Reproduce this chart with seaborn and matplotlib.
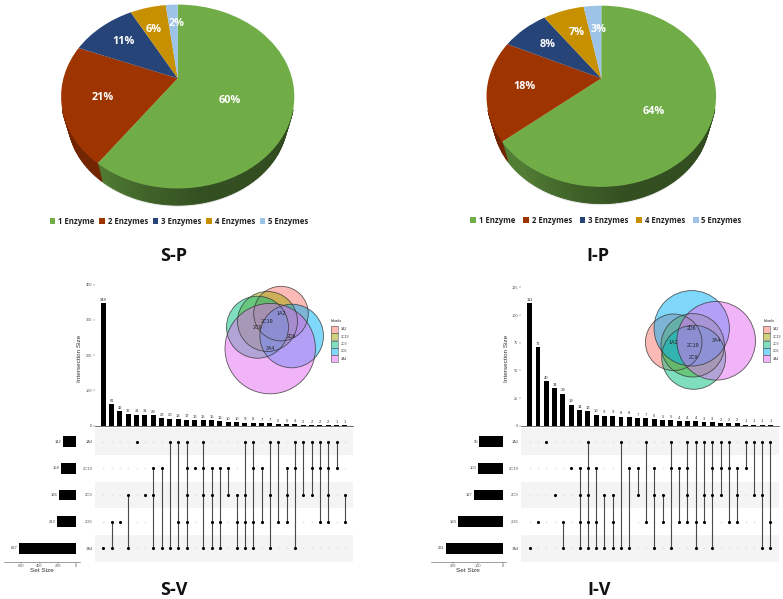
import numpy as np
import pandas as pd
import matplotlib
matplotlib.use("Agg")
import matplotlib.pyplot as plt
import matplotlib.transforms as mtransforms
from matplotlib import font_manager as fm
from matplotlib.collections import PolyCollection
from matplotlib.colors import to_rgb
from matplotlib.patches import Circle, Rectangle, Patch
import seaborn as sns

# ---------- data ----------
ENZYME_LABELS = ["1 Enzyme", "2 Enzymes", "3 Enzymes", "4 Enzymes", "5 Enzymes"]
PIE_COLORS = ["#70AD47", "#9E3400", "#264478", "#C69000", "#9DC3E6"]
SP_SHARE = [60, 21, 11, 6, 2]
IP_SHARE = [64, 18, 8, 7, 3]

SETS = ["1A2", "2C19", "2C9", "2D6", "3A4"]
SV_SET_SIZE = [142, 168, 186, 213, 627]
IV_SET_SIZE = [95, 100, 117, 183, 231]

SV_INTER = [348, 61, 42, 32, 31, 31, 29, 22, 20, 18, 17, 16, 15, 15, 13,
            10, 10, 9, 8, 7, 7, 5, 5, 4, 2, 2, 2, 2, 1, 1]
SV_COMBOS = ["3A4", "2D6 3A4", "2D6", "2C9 3A4", "1A2", "2C9",
             "2C19 2C9 3A4", "2C19 3A4", "1A2 3A4", "1A2 2D6 3A4",
             "1A2 2C19 2C9 2D6 3A4", "2C19", "1A2 2C19 2C9 3A4",
             "2C19 2C9 2D6 3A4", "2C19 2D6 3A4", "2C19 2C9", "2C9 2D6 3A4",
             "1A2 2C9 2D6 3A4", "1A2 2C19 2D6 3A4", "2C19 2D6", "1A2 2C9 3A4",
             "1A2 2D6", "2C19 2C9 2D6", "1A2 2C19 3A4", "1A2 2C9",
             "1A2 2C19 2C9", "1A2 2C19 2D6", "1A2 2C19 2C9 2D6", "1A2 2C19",
             "2C9 2D6"]

IV_INTER = [111, 71, 40, 34, 29, 19, 14, 13, 10, 9, 9, 8, 8, 7, 7,
            6, 5, 5, 4, 4, 4, 3, 3, 2, 2, 2, 1, 1, 1, 1]
IV_COMBOS = ["3A4", "2D6", "1A2", "2C9", "2D6 3A4", "2C19",
             "2C19 2C9 2D6 3A4", "1A2 2C19 2C9 2D6 3A4", "2C19 2D6 3A4",
             "2C9 3A4", "2C9 2D6 3A4", "1A2 3A4", "2C19 3A4", "2C19 2C9",
             "1A2 2D6", "2C19 2C9 3A4", "2C9 2D6", "1A2 2C19 3A4", "2C19 2D6",
             "1A2 2C19 2C9 2D6", "1A2 2D6 3A4", "1A2 2C9 2D6",
             "1A2 2C19 2C9 3A4", "1A2 2C19 2C9", "1A2 2C19 2D6",
             "2C19 2C9 2D6", "1A2 2C19", "1A2 2C9", "1A2 2C9 3A4",
             "1A2 2D6 3A4"]

VENN_COLORS = ["#F8766D", "#A3A500", "#00BF7D", "#00B0F6", "#E76BF3"]

# ---------- setup ----------
sns.set_theme(style="white")
plt.rcParams["font.family"] = ["Liberation Sans", "DejaVu Sans"]
W, H = 783, 599
fig = plt.figure(figsize=(W / 100, H / 100), dpi=100, facecolor="white")


def bold_family():
    for fam in ["Open Sans", "Noto Sans", "Lato", "Roboto", "Liberation Sans"]:
        for f in fm.fontManager.ttflist:
            if f.name == fam and f.weight in ("bold", 700, "700"):
                return fam
    return "DejaVu Sans"


BOLD = bold_family()


def px_axes(x0, y0, x1, y1):
    return fig.add_axes([x0 / W, 1 - y1 / H, (x1 - x0) / W, (y1 - y0) / H])


class Persp(mtransforms.Transform):
    """Tilted-disc projection of a unit pie, output in pixels."""
    input_dims = output_dims = 2
    is_separable = False
    has_inverse = False

    def __init__(self, cx, cy, a, b, k):
        super().__init__()
        self.p = (cx, cy, a, b, k)

    def transform_non_affine(self, xy):
        cx, cy, a, b, k = self.p
        xy = np.asarray(xy)
        d = 1 + k * xy[:, 1]
        return np.column_stack([cx + a * xy[:, 0] / d, cy - b * xy[:, 1] / d])


def pie3d(share, cx, cy, a, b, label_xy, legend_x, legend_y, col_space):
    k = 0.198
    shrink, drop, cy_e = 0.943, 22.0, cy + 18.3
    ax = px_axes(cx - 170, 0, cx + 170, 240)
    wedges, _, pct = ax.pie(share, colors=PIE_COLORS, startangle=90, counterclock=False,
                            autopct=lambda p: f"{p:.0f}%", frame=False,
                            wedgeprops={"linewidth": 0, "edgecolor": "none"})
    ax.set_aspect("auto")
    ax.set_xlim(cx - 170, cx + 170)
    ax.set_ylim(240, 0)
    proj = Persp(cx, cy, a, b, k)

    def lower(p):
        return np.column_stack([cx + shrink * (p[:, 0] - cx),
                                cy_e + drop + shrink * (p[:, 1] - cy_e)])

    for w in wedges:
        w.set_transform(proj + ax.transData)
        w.set_zorder(3)
    # side wall (only the near half of the rim can be seen)
    edges = np.concatenate([[0], np.cumsum(share)]) / np.sum(share) * 360
    polys, cols = [], []
    for i, col in enumerate(PIE_COLORS):
        th = np.radians(np.arange(edges[i], edges[i + 1] + 1.5, 1.5))
        rim = proj.transform_non_affine(np.column_stack([np.sin(th), np.cos(th)]))
        low = lower(rim)
        deg = np.degrees(th)
        for j in range(len(th) - 1):
            if rim[j, 1] < cy_e + 15 and rim[j + 1, 1] < cy_e + 15:
                continue
            polys.append([rim[j], rim[j + 1], low[j + 1], low[j]])
            f = np.interp(deg[j], [90, 170, 190, 216], [0.42, 0.46, 0.56, 0.72])
            cols.append(tuple(np.array(to_rgb(col)) * f))
    ax.add_collection(PolyCollection(polys, facecolors=cols, edgecolors=cols,
                                     linewidths=0.6, zorder=2))
    # soft shadow under the wall
    th = np.radians(np.arange(0, 361, 3))
    rim = lower(proj.transform_non_affine(np.column_stack([np.sin(th), np.cos(th)])))
    ax.fill(rim[:, 0], rim[:, 1] + 1.5, color="#999999", alpha=0.25, lw=0, zorder=1)
    for t, (x, y) in zip(pct, label_xy):
        t.set_position((x, y))
        t.set(color="white", fontsize=7.8, fontweight="bold", family=BOLD,
              ha="center", va="center", zorder=5)
    ax.legend(handles=[Patch(color=c, lw=0) for c in PIE_COLORS], labels=ENZYME_LABELS,
              ncol=5, loc="center", bbox_to_anchor=(legend_x, legend_y),
              bbox_transform=ax.transData, frameon=False, handlelength=0.75,
              handleheight=0.75, handletextpad=0.35, columnspacing=col_space,
              prop={"family": BOLD, "weight": "bold", "size": 5.6},
              labelcolor="#222222", borderpad=0, borderaxespad=0)
    ax.axis("off")


pie3d(SP_SHARE, 177.7, 78.3, 114.3, 88.3,
      [(230, 100.7), (102.3, 97), (123.3, 42), (153.3, 30), (177, 24)], 179, 221, 0.6)
pie3d(IP_SHARE, 601.3, 78.3, 112.5, 87,
      [(654, 111.7), (524, 86.7), (547.3, 44.3), (577.3, 32.7), (599, 29.3)], 606, 220.5, 1.0)

SMALL = "#555555"


def upset(inter, combos, sizes, x0_col, dx_col, xl, xr, y_scale, yticks,
          size_x0, size_x1, size_zero, size_scale, size_ticks, ylab_x, setsize_x):
    lo, hi = (xl - x0_col) / dx_col, (xr - x0_col) / dx_col
    base_y, top_y = 425.7, 283

    # intersection bars
    ax = px_axes(xl, top_y, xr, base_y)
    cols = np.arange(len(inter))
    sns.barplot(x=cols, y=inter, native_scale=True, color="black", saturation=1,
                width=0.6, ax=ax, linewidth=0)
    ax.set_xlim(lo, hi)
    ax.set_ylim(0, (base_y - top_y) / y_scale)
    ax.set_yticks(yticks)
    ax.set_xticks([])
    ax.tick_params(axis="y", left=True, length=1.2, width=0.3, pad=0.8, labelsize=2.8,
                   labelcolor=SMALL, color=SMALL)
    sns.despine(ax=ax, left=True)
    ax.spines["bottom"].set(color="#333333", linewidth=0.5)
    ax.set_xlabel("")
    ax.set_ylabel("")
    ax.bar_label(ax.containers[0], fontsize=3, padding=1, color="#333333")

    # membership matrix
    mx = px_axes(xl, 428.3, xr, 561.7)
    for r in (0, 2, 4):
        mx.axhspan(r - 0.5, r + 0.5, color="#F4F4F4", lw=0, zorder=0)
    grid = pd.DataFrame([(c, s, s in combos[c].split()) for c in cols for s in SETS],
                        columns=["col", "set", "on"])
    grid["row"] = grid["set"].map(SETS.index)
    sns.scatterplot(data=grid[~grid["on"]], x="col", y="row", s=1.8, color="#E4E4E4",
                    linewidth=0, ax=mx, zorder=1)
    for c in cols:
        rows = [SETS.index(s) for s in combos[c].split()]
        mx.vlines(c, min(rows), max(rows), color="#4A4A4A", lw=0.8, zorder=2)
    sns.scatterplot(data=grid[grid["on"]], x="col", y="row", s=5, color="black",
                    linewidth=0, ax=mx, zorder=3)
    mx.set_xlim(lo, hi)
    mx.set_ylim(4.5, -0.5)
    mx.set_xticks([])
    mx.set_yticks(range(5), SETS)
    mx.tick_params(axis="y", length=0, pad=1.5, labelsize=3, labelcolor=SMALL)
    mx.set_xlabel("")
    mx.set_ylabel("")
    for s in mx.spines.values():
        s.set_visible(False)

    # set size bars
    sx = px_axes(size_x0, 428.3, size_x1, 561.7)
    sns.barplot(y=SETS, x=sizes, order=SETS, orient="h", color="black", saturation=1,
                width=0.41, ax=sx, linewidth=0)
    sx.set_xlim((size_zero - size_x0) / size_scale, -(size_x1 - size_zero) / size_scale)
    sx.set_ylim(4.5, -0.5)
    sx.set_yticks([])
    sx.set_xticks(size_ticks)
    sx.tick_params(axis="x", bottom=True, length=1.2, width=0.3, pad=0.8, labelsize=2.8,
                   labelcolor=SMALL, color=SMALL)
    sns.despine(ax=sx, left=True)
    sx.spines["bottom"].set(color="#555555", linewidth=0.4)
    sx.set_xlabel("")
    sx.set_ylabel("")
    sx.bar_label(sx.containers[0], fontsize=3, padding=1, color="#444444")

    ov.text(ylab_x, 358, "Intersection Size", rotation=90, ha="center", va="center",
            fontsize=4.6, color="#333333")
    ov.text(setsize_x, 570.5, "Set Size", ha="center", va="center",
            fontsize=4.6, color="#333333")


def venn(circles, title_x, box_x, label_x):
    for (x, y, r), c, name in zip(circles, VENN_COLORS, SETS):
        ov.add_patch(Circle((x, y), r, facecolor=c, alpha=0.5, edgecolor="none", zorder=2))
        ov.add_patch(Circle((x, y), r, facecolor="none", edgecolor="#333333", lw=0.6,
                            alpha=0.8, zorder=3))
        ov.text(x, y, name, ha="center", va="center", fontsize=3.8, color="#222222", zorder=4)
    ov.text(title_x, 321.3, "labels", ha="center", va="center", fontsize=3.2, color="#333333")
    for i, (c, name) in enumerate(zip(VENN_COLORS, SETS)):
        y = 326 + 7.33 * i
        ov.add_patch(Rectangle((box_x, y), 6.5, 7, facecolor=c, alpha=0.5, edgecolor="none"))
        ov.add_patch(Rectangle((box_x, y), 6.5, 7, facecolor="none", edgecolor="#555555", lw=0.4))
        ov.text(label_x, y + 3.5, name, ha="left", va="center", fontsize=2.6, color="#444444")


ov = fig.add_axes([0, 0, 1, 1], zorder=10)
ov.set_xlim(0, W)
ov.set_ylim(H, 0)
ov.axis("off")
ov.patch.set_alpha(0)

upset(SV_INTER, SV_COMBOS, SV_SET_SIZE, 103.3, 8.33, 95, 352.7, 0.3525, [0, 100, 200, 300, 400],
      4, 80, 76.3, 0.0917, [600, 400, 200, 0], 79.7, 42)
upset(IV_INTER, IV_COMBOS, IV_SET_SIZE, 529.7, 8.3, 521, 779, 1.106, [0, 25, 50, 75, 100, 125],
      430.7, 506, 503, 0.248, [200, 100, 0], 506, 468.3)

venn([(281, 313.6, 27.3), (267.5, 321.5, 30), (257.5, 327.2, 31),
      (291.7, 336, 31.8), (270.2, 348.6, 45.2)], 336.7, 331.3, 340.7)
venn([(673.7, 342.3, 28.3), (692.7, 345.3, 31.7), (693.7, 357.3, 32),
      (691.7, 328.3, 37.7), (716.2, 340.8, 39.3)], 769, 763.3, 772.7)

for txt, x, y in [("S-P", 174, 256), ("I-P", 598, 256), ("S-V", 174, 590), ("I-V", 599, 590)]:
    ov.text(x, y, txt, ha="center", va="center", fontsize=13, fontweight="bold",
            family=BOLD, color="#111111")

fig.savefig("out.png", dpi=100, facecolor="white")
